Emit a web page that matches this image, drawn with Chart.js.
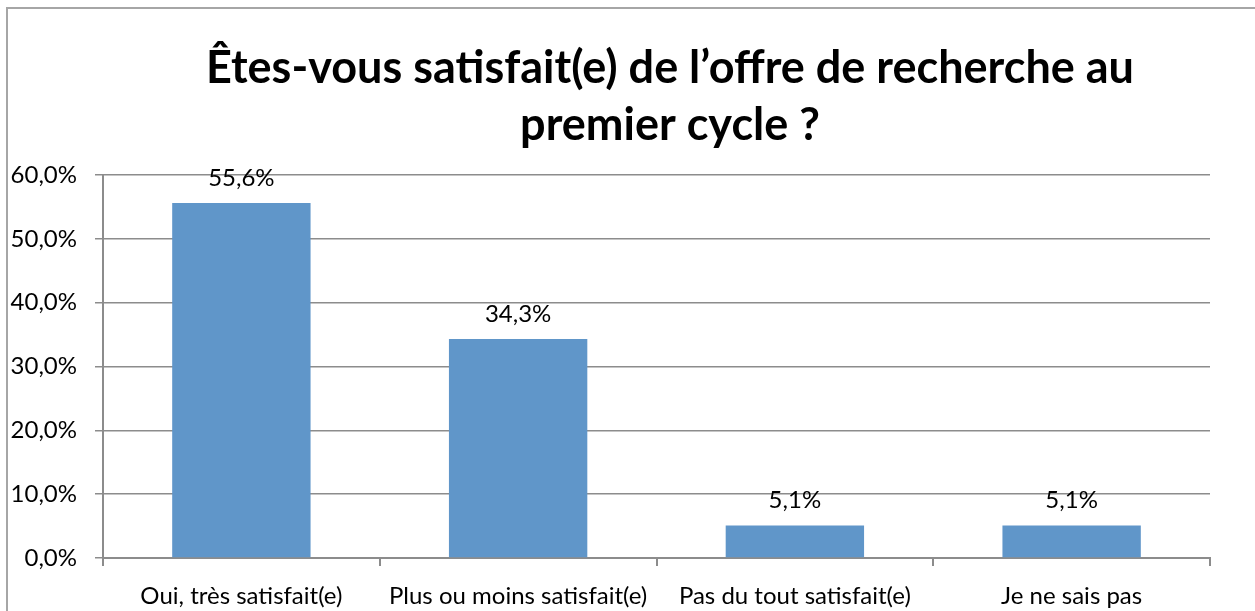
<!DOCTYPE html>
<html>
<head>
<meta charset="utf-8">
<script src="https://cdn.jsdelivr.net/npm/chart.js@4"></script>
<style>
  body { margin: 0; background: #fff; overflow: hidden; }
  #frame {
    position: absolute; left: 6px; top: 7px;
    width: 1324px; height: 640px;
    border-left: 2px solid #a6a6a6; border-top: 2px solid #a6a6a6;
    overflow: hidden;
  }
</style>
</head>
<body>
<div id="frame"><canvas id="myChart" width="1324" height="640"></canvas></div>
<script>
'use strict';

let categories = ['Oui, très satisfait(e)', 'Plus ou moins satisfait(e)', 'Pas du tout satisfait(e)', 'Je ne sais pas'];
let percentValues = [55.6, 34.3, 5.1, 5.1];
let titleLines = ['Êtes-vous satisfait(e) de l’offre de recherche au', 'premier cycle ?'];
let yTickMax = 60;
let yTickStep = 10;

let ctx = document.getElementById('myChart');

function frenchPercent(v) {
  return v.toFixed(1).replace('.', ',') + '%';
}

// value above each bar
let barLabels = {
  id: 'barLabels',
  afterDatasetsDraw(chart) {
    let c = chart.ctx;
    let meta = chart.getDatasetMeta(0);
    c.save();
    c.font = '24px Lato';
    c.fillStyle = '#000';
    c.textAlign = 'center';
    c.textBaseline = 'alphabetic';
    meta.data.forEach((bar, i) => {
      c.fillText(frenchPercent(percentValues[i]), bar.x, bar.y - 17);
    });
    c.restore();
  }
};

// title centred on the whole chart frame (wider than the plot's right padding allows)
let frameTitle = {
  id: 'frameTitle',
  afterDraw(chart) {
    let c = chart.ctx;
    c.save();
    c.font = 'bold 45px Lato';
    c.fillStyle = '#000';
    c.textAlign = 'center';
    c.textBaseline = 'alphabetic';
    c.fillText(titleLines[0], chart.width / 2, 74);
    c.fillText(titleLines[1], chart.width / 2, 131);
    c.restore();
  }
};

new Chart(ctx, {
  type: 'bar',
  data: {
    labels: categories,
    datasets: [{
      data: percentValues,
      backgroundColor: '#6096c9',
      borderWidth: 0,
      barPercentage: 0.5,
      categoryPercentage: 1
    }]
  },
  options: {
    responsive: false,
    animation: false,
    layout: { padding: { left: 0, right: 122, top: 166, bottom: 0 } },
    plugins: {
      legend: { display: false },
      tooltip: { enabled: false },
      title: { display: false }
    },
    scales: {
      x: {
        grid: { display: true, drawOnChartArea: false, drawTicks: true, tickLength: 8, color: '#8c8c8c', lineWidth: 2, offset: true },
        border: { color: '#8c8c8c', width: 2 },
        ticks: { color: '#000', font: { family: 'Lato', size: 24 }, padding: 16, maxRotation: 0 },
        afterFit(scale) { scale.height = 91; }
      },
      y: {
        min: 0,
        max: yTickMax,
        grid: { color: '#8c8c8c', lineWidth: 1.5, tickLength: 8 },
        border: { color: '#8c8c8c', width: 2 },
        ticks: {
          stepSize: yTickStep,
          color: '#000',
          font: { family: 'Lato', size: 24 },
          padding: 18,
          callback: (v) => frenchPercent(v)
        },
        afterFit(scale) { scale.width = 95; }
      }
    }
  },
  plugins: [barLabels, frameTitle]
});
</script>
</body>
</html>
